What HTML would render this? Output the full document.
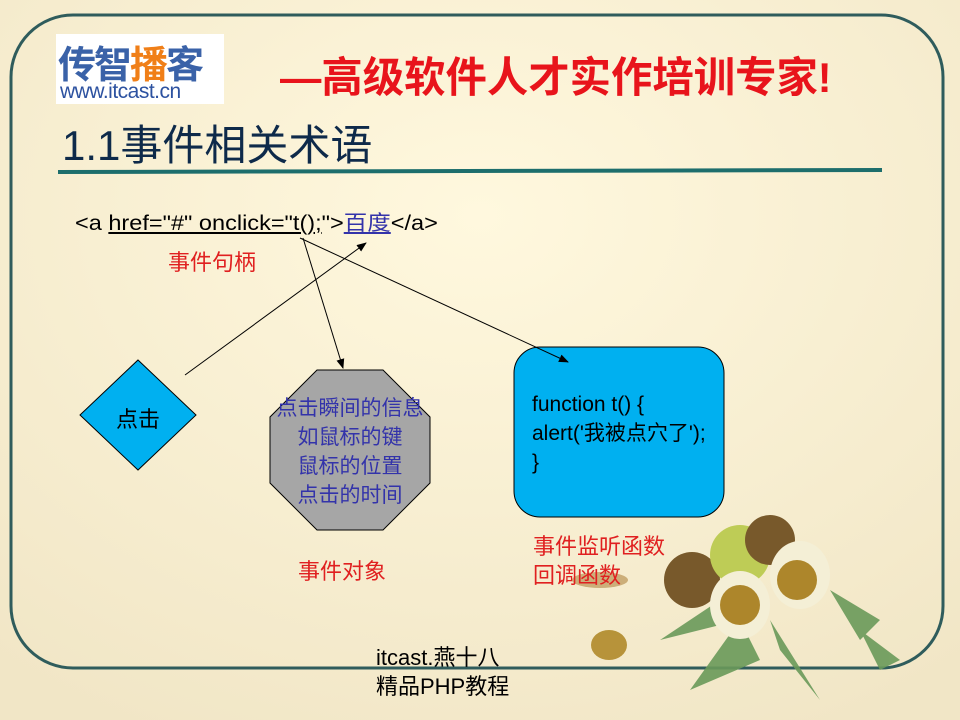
<!DOCTYPE html><html><head><meta charset="utf-8"><style>
body{margin:0;width:960px;height:720px;overflow:hidden;background:#f8efd2;font-family:"Liberation Sans","Noto Sans CJK SC",sans-serif}
.t{position:absolute;white-space:nowrap}
</style></head><body>
<svg width="960" height="720" style="position:absolute;left:0;top:0">
<defs><marker id="a" markerWidth="10" markerHeight="10" refX="9" refY="5" orient="auto"><path d="M0,1 L10,5 L0,9z" fill="#000"/></marker>
<radialGradient id="bg" cx="0.5" cy="0.3" r="0.8"><stop offset="0" stop-color="#fff8de"/><stop offset="1" stop-color="#f1e6c6"/></radialGradient></defs>
<rect width="960" height="720" fill="url(#bg)"/>
<rect x="11" y="15" width="932" height="653" rx="62" fill="none" stroke="#2f5c5c" stroke-width="3"/>
<rect x="56" y="34" width="168" height="70" fill="#fff"/>
<line x1="58" y1="172" x2="882" y2="170" stroke="#1d6e6c" stroke-width="4"/>
<polygon points="138,360 196,415 138,470 80,415" fill="#00b0f0" stroke="#000"/>
<polygon points="317,370 383,370 430,417 430,483 383,530 317,530 270,483 270,417" fill="#a6a6a6" stroke="#000"/>
<rect x="514" y="347" width="210" height="170" rx="26" fill="#00b0f0" stroke="#000"/>
<line x1="185" y1="375" x2="366" y2="243" stroke="#000" marker-end="url(#a)"/>
<line x1="303" y1="238" x2="343" y2="368" stroke="#000" marker-end="url(#a)"/>
<line x1="300" y1="238" x2="568" y2="362" stroke="#000" marker-end="url(#a)"/>
<g opacity="0.9">
<ellipse cx="600" cy="580" rx="28" ry="8" fill="#c8a870"/>
<ellipse cx="609" cy="645" rx="18" ry="15" fill="#b08a2a"/>
<path d="M660,640 L720,600 L740,620 Z M690,690 L740,620 L760,660Z M780,650 L770,620 L820,700Z M830,590 L880,620 L860,640Z M860,630 L900,660 L880,670Z" fill="#6a9a5a"/>
<circle cx="692" cy="580" r="28" fill="#6b4a1a"/>
<circle cx="740" cy="555" r="30" fill="#b9c94a"/>
<circle cx="770" cy="540" r="25" fill="#6b4a1a"/>
<ellipse cx="740" cy="605" rx="30" ry="34" fill="#f4f0d8"/>
<ellipse cx="800" cy="575" rx="30" ry="34" fill="#f4f0d8"/>
<circle cx="740" cy="605" r="20" fill="#a67c1a"/>
<circle cx="797" cy="580" r="20" fill="#a67c1a"/>
</g>
</svg>
<div class="t" style="left:58px;top:34px;font-size:38px;font-weight:bold;color:#3a62a8;letter-spacing:-2px">传智<span style="color:#f07f18">播</span>客</div>
<div class="t" style="left:60px;top:80px;font-size:21px;color:#2d52a0;letter-spacing:-0.5px">www.itcast.cn</div>
<div class="t" style="left:280px;top:44px;font-size:42px;font-weight:bold;color:#e8141b;transform:scaleX(0.985);transform-origin:0 0">—高级软件人才实作培训专家!</div>
<div class="t" style="left:62px;top:112px;font-size:42px;color:#0e2a4a">1.1事件相关术语</div>
<div class="t" style="left:75px;top:207px;font-size:21px;color:#000;transform:scaleX(1.12);transform-origin:0 0">&lt;a <u>href="#" onclick="t();</u>"&gt;<u style="color:#3333aa">百度</u>&lt;/a&gt;</div>
<div class="t" style="left:168px;top:245px;font-size:22px;color:#e02020">事件句柄</div>
<div class="t" style="left:116px;top:402px;font-size:22px;color:#000">点击</div>
<div class="t" style="left:262px;top:394px;font-size:21px;color:#3333aa;line-height:29px;text-align:center;width:176px">点击瞬间的信息<br>如鼠标的键<br>鼠标的位置<br>点击的时间</div>
<div class="t" style="left:532px;top:390px;font-size:21px;color:#000;line-height:29px">function t() {<br>alert('我被点穴了');<br>}</div>
<div class="t" style="left:298px;top:554px;font-size:22px;color:#e02020">事件对象</div>
<div class="t" style="left:533px;top:532px;font-size:22px;color:#e02020;line-height:29px">事件监听函数<br>回调函数</div>
<div class="t" style="left:376px;top:643px;font-size:22px;color:#000;line-height:29px">itcast.燕十八<br>精品PHP教程</div>
</body></html>
